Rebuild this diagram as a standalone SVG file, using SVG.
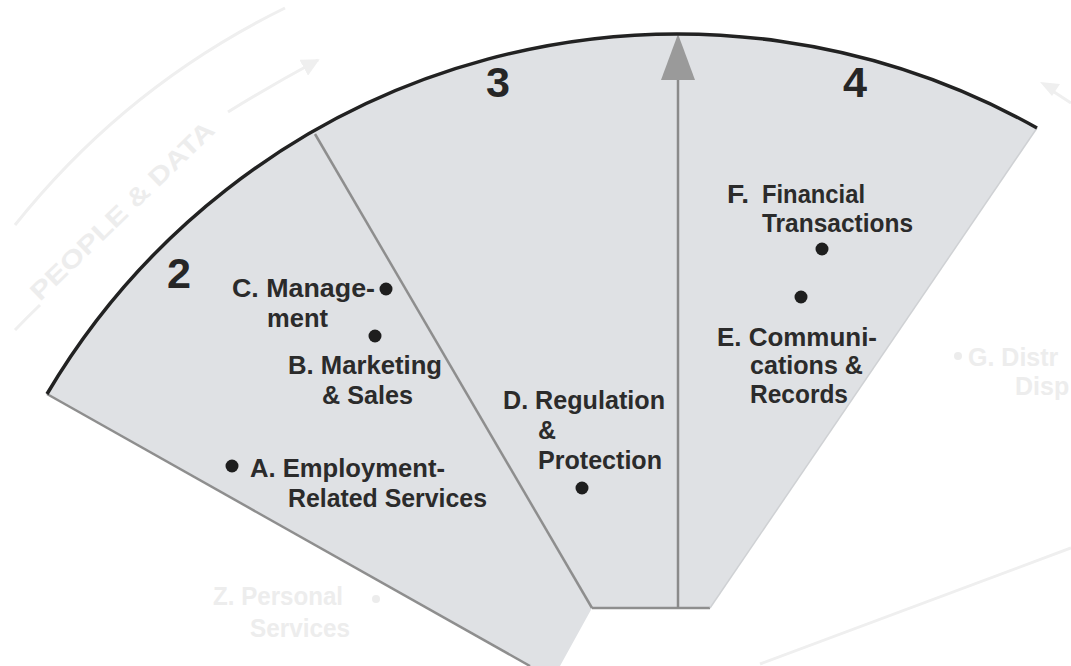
<svg xmlns="http://www.w3.org/2000/svg" width="1071" height="666" viewBox="0 0 1071 666">
<style>
.lbl{font-family:"Liberation Sans Narrow","Liberation Sans",Arial,sans-serif;font-size:26px;font-weight:bold;fill:#2b2b2b}
.num{font-family:"Liberation Sans Narrow","Liberation Sans",Arial,sans-serif;font-size:42px;font-weight:bold;fill:#262626}
.faint{font-family:"Liberation Sans Narrow","Liberation Sans",Arial,sans-serif;font-size:25px;font-weight:bold;fill:#ededed}
.fl{fill:none;stroke:#efefef;stroke-width:3}
.div{stroke:#8e8e8e;stroke-width:2.5;fill:none}
.dot{fill:#1e1e1e}
</style>
<defs>
<marker id="ah" viewBox="0 0 10 10" refX="9" refY="5" markerWidth="6" markerHeight="6" orient="auto"><path d="M0,0 L10,5 L0,10 Z" fill="#efefef"/></marker>
</defs>
<rect width="1071" height="666" fill="#ffffff"/>
<g id="background-faint">
<path class="fl" d="M15,225 A790,790 0 0,1 285,8"/>
<path class="fl" d="M15,330 A760,760 0 0,1 40,305"/>
<path d="M228,112 Q270,86 318,60" fill="none" stroke="#efefef" stroke-width="3" marker-end="url(#ah)"/>
<text class="faint" transform="translate(40,302) rotate(-44)" textLength="245" lengthAdjust="spacingAndGlyphs">PEOPLE &amp; DATA</text>
<path d="M1071,103 L1048,88" fill="none" stroke="#efefef" stroke-width="3"/>
<path d="M1040,82 L1060,84 L1052,96 Z" fill="#efefef"/>
<path class="fl" d="M760,664 Q930,600 1071,548"/>
<circle cx="958" cy="356" r="4" fill="#ececec"/>
<text class="faint" x="968" y="366">G. Distr</text>
<text class="faint" x="1015" y="395">Disp</text>
<text class="faint" x="213" y="605" textLength="130" lengthAdjust="spacingAndGlyphs">Z. Personal</text>
<circle cx="376" cy="599" r="4" fill="#ececec"/>
<text class="faint" x="250" y="637" textLength="100" lengthAdjust="spacingAndGlyphs">Services</text>
</g>
<g id="sector-shape">
<path d="M47,394 A733,733 0 0,1 1037,128 L710,608 L592,608 L560,666 L530,666 Z" fill="#dfe1e4"/>
</g>
<g id="connectors">
<path class="div" d="M47,394 L530,666"/>
<path class="div" d="M315,134 L592,608"/>
<path class="div" d="M592,608 L710,608"/>
<path d="M1037,128 L710,608" stroke="#cfd1d4" stroke-width="1.5" fill="none"/>
<path d="M678,608 L678,78" stroke="#8a8a8a" stroke-width="2.5" fill="none"/>
<path d="M678,34 L695,80 L661,80 Z" fill="#9a9a9a"/>
<path d="M47,394 A733,733 0 0,1 1037,128" fill="none" stroke="#222" stroke-width="3.5"/>
</g>
<g id="sector-2">
<text class="num" x="167" y="288" textLength="24" lengthAdjust="spacingAndGlyphs">2</text>
</g>
<g id="sector-3">
<text class="num" x="486" y="97" textLength="24" lengthAdjust="spacingAndGlyphs">3</text>
</g>
<g id="sector-4">
<text class="num" x="843" y="97" textLength="24" lengthAdjust="spacingAndGlyphs">4</text>
</g>
<g id="node-C">
<text class="lbl" x="232" y="297" textLength="143" lengthAdjust="spacingAndGlyphs">C. Manage-</text>
<text class="lbl" x="267" y="327" textLength="61" lengthAdjust="spacingAndGlyphs">ment</text>
<circle class="dot" cx="386" cy="289" r="6.5"/>
</g>
<g id="node-B">
<circle class="dot" cx="375" cy="336" r="6.5"/>
<text class="lbl" x="288" y="374" textLength="154" lengthAdjust="spacingAndGlyphs">B. Marketing</text>
<text class="lbl" x="322" y="404" textLength="91" lengthAdjust="spacingAndGlyphs">&amp; Sales</text>
</g>
<g id="node-A">
<circle class="dot" cx="232" cy="466" r="6.5"/>
<text class="lbl" x="250" y="477" textLength="195" lengthAdjust="spacingAndGlyphs">A. Employment-</text>
<text class="lbl" x="288" y="507" textLength="199" lengthAdjust="spacingAndGlyphs">Related Services</text>
</g>
<g id="node-D">
<text class="lbl" x="503" y="409" textLength="162" lengthAdjust="spacingAndGlyphs">D. Regulation</text>
<text class="lbl" x="538" y="439" textLength="18" lengthAdjust="spacingAndGlyphs">&amp;</text>
<text class="lbl" x="538" y="469" textLength="124" lengthAdjust="spacingAndGlyphs">Protection</text>
<circle class="dot" cx="582" cy="488" r="6.5"/>
</g>
<g id="node-F">
<text class="lbl" x="727" y="203" textLength="22" lengthAdjust="spacingAndGlyphs">F.</text>
<text class="lbl" x="762" y="203" textLength="103" lengthAdjust="spacingAndGlyphs">Financial</text>
<text class="lbl" x="762" y="232" textLength="151" lengthAdjust="spacingAndGlyphs">Transactions</text>
<circle class="dot" cx="822" cy="249" r="6.5"/>
</g>
<g id="node-E">
<circle class="dot" cx="801" cy="297" r="6.5"/>
<text class="lbl" x="717" y="346" textLength="160" lengthAdjust="spacingAndGlyphs">E. Communi-</text>
<text class="lbl" x="750" y="374" textLength="113" lengthAdjust="spacingAndGlyphs">cations &amp;</text>
<text class="lbl" x="750" y="403" textLength="98" lengthAdjust="spacingAndGlyphs">Records</text>
</g>
</svg>
